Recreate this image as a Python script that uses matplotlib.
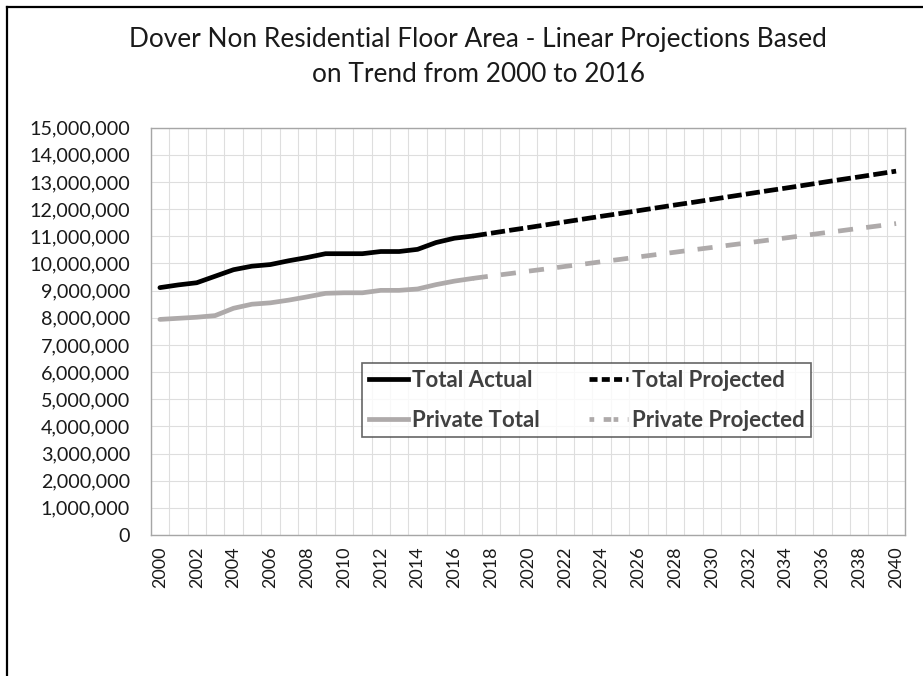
import matplotlib
matplotlib.use("Agg")
import matplotlib.pyplot as plt
from matplotlib.lines import Line2D
from matplotlib.ticker import FuncFormatter
import numpy as np

plt.rcParams['font.family'] = ['Lato', 'DejaVu Sans']

years = list(range(2000, 2041))

# values
total_actual = [9110000, 9210000, 9290000, 9530000, 9770000, 9900000, 9960000,
                10100000, 10220000, 10360000, 10360000, 10360000, 10440000,
                10440000, 10520000, 10770000, 10930000, 11010000]
private_total = [7940000, 7980000, 8020000, 8080000, 8350000, 8500000, 8550000,
                 8650000, 8770000, 8900000, 8920000, 8920000, 9010000, 9010000,
                 9060000, 9220000, 9350000, 9450000]
total_proj = [11010000, 11115000, 11220000, 11320000, 11425000, 11530000,
              11635000, 11740000, 11840000, 11945000, 12050000, 12155000,
              12255000, 12360000, 12465000, 12570000, 12675000, 12775000,
              12880000, 12985000, 13090000, 13190000, 13295000, 13400000]
private_proj = [9450000, 9540000, 9625000, 9715000, 9800000, 9890000, 9975000,
                10065000, 10150000, 10240000, 10330000, 10415000, 10505000,
                10590000, 10680000, 10765000, 10855000, 10940000, 11030000,
                11120000, 11205000, 11295000, 11380000, 11470000]

BLACK = '#000000'
GREY = '#AEAAAA'
TXT = '#1a1a1a'

fig = plt.figure(figsize=(9.23, 6.76), dpi=100)
ax = fig.add_axes([150.7 / 923, 1 - 535 / 676, (905.3 - 150.7) / 923, (535 - 127.7) / 676])

x_act = np.arange(len(total_actual))
x_proj = np.arange(len(total_actual) - 1, len(years))

lw = 3.4
ax.plot(x_act, total_actual, color=BLACK, lw=lw, solid_capstyle='round', zorder=4)
ax.plot(x_act, private_total, color=GREY, lw=lw, solid_capstyle='round', zorder=3)
ax.plot(x_proj, total_proj, color=BLACK, lw=lw, dashes=(3.0, 0.9), zorder=4)
ax.plot(x_proj, private_proj, color=GREY, lw=lw, dashes=(3.2, 2.8), zorder=3)

ax.set_xlim(-0.5, len(years) - 0.5)
ax.set_ylim(0, 15000000)
ax.set_yticks(np.arange(0, 15000001, 1000000))
ax.yaxis.set_major_formatter(FuncFormatter(lambda v, p: f"{int(v):,}"))
ax.set_xticks(np.arange(0, len(years), 2))
ax.set_xticklabels([str(y) for y in years[::2]], rotation=90)
ax.set_xticks(np.arange(-0.5, len(years), 1), minor=True)

ax.grid(which='minor', axis='x', color='#dedede', lw=0.8)
ax.grid(which='major', axis='y', color='#dedede', lw=0.8)
ax.set_axisbelow(True)
ax.tick_params(axis='both', which='both', length=0, colors=TXT)
ax.tick_params(axis='y', labelsize=14.2, pad=15)
ax.tick_params(axis='x', labelsize=13, pad=8)
for s in ax.spines.values():
    s.set_color('#a6a6a6')
    s.set_linewidth(1.0)

handles = [Line2D([], [], color=BLACK, lw=lw),
           Line2D([], [], color=GREY, lw=lw),
           Line2D([], [], color=BLACK, lw=lw, dashes=(1.7, 0.9)),
           Line2D([], [], color=GREY, lw=lw, dashes=(1.0, 2.0, 1.6, 0.5))]
labels = ['Total Actual', 'Private Total', 'Total Projected', 'Private Projected']
leg = ax.legend(handles, labels, ncol=2, loc='upper left',
                bbox_to_anchor=((362 - 150.7) / 754.6, (535 - 363) / 407.3),
                frameon=True, fancybox=False, shadow=False,
                prop={'weight': 'bold', 'size': 16},
                handlelength=1.75, handletextpad=0.2, columnspacing=2.2,
                labelspacing=0.85, borderpad=0.3, borderaxespad=0)
leg.get_frame().set_edgecolor('#404040')
leg.get_frame().set_linewidth(1.2)
for t in leg.get_texts():
    t.set_color('#404040')
leg.set_zorder(10)

fig.text(0.518, 1 - 40 / 676, 'Dover Non Residential Floor Area - Linear Projections Based',
         ha='center', va='center', fontsize=18.9, color=TXT)
fig.text(0.518, 1 - 75 / 676, 'on Trend from 2000 to 2016',
         ha='center', va='center', fontsize=18.9, color=TXT)

# outer chart border (only left and top edges are visible in the crop)
fig.add_artist(Line2D([7 / 923, 7 / 923], [0, 1 - 7 / 676], color='black', lw=1.6,
                      transform=fig.transFigure))
fig.add_artist(Line2D([7 / 923, 1], [1 - 7 / 676, 1 - 7 / 676], color='black', lw=1.6,
                      transform=fig.transFigure))

fig.savefig('out.png', dpi=100)
